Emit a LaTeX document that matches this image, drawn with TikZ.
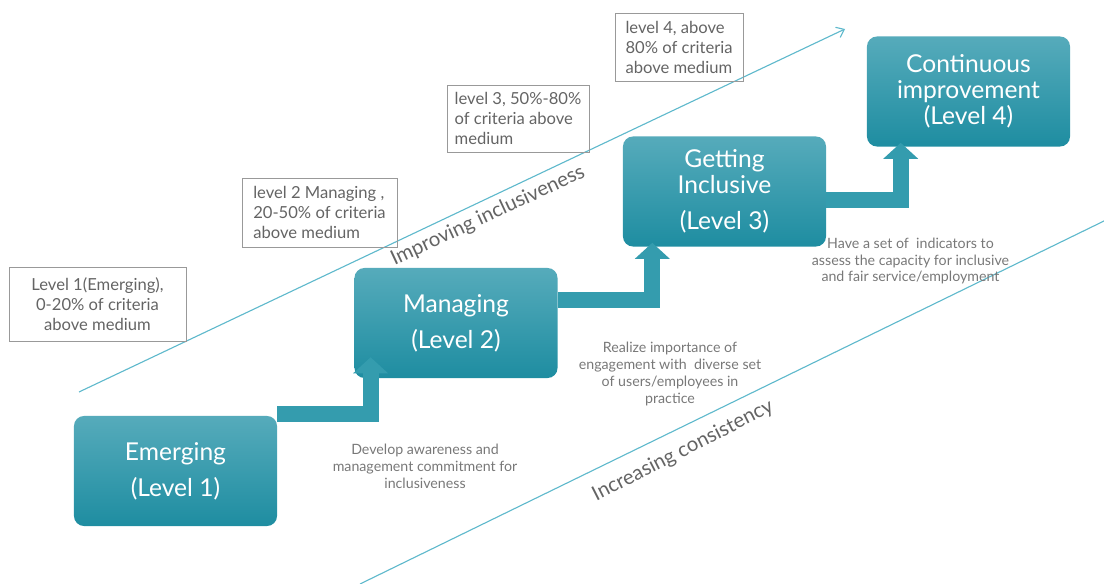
\documentclass[tikz,border=0pt]{standalone}
\usepackage{fontspec}
\setmainfont{Lato}
\usetikzlibrary{arrows.meta}
\definecolor{boxtop}{RGB}{86,171,187}
\definecolor{boxbot}{RGB}{30,141,161}
\definecolor{stepcol}{RGB}{52,156,174}
\definecolor{trendcol}{RGB}{95,185,204}
\definecolor{notegray}{RGB}{120,120,120}
\definecolor{labgray}{RGB}{100,100,100}

\begin{document}
\begin{tikzpicture}[x=0.025cm,y=0.025cm,
  levelbox/.style={rounded corners=0.25cm,top color=boxtop,bottom color=boxbot,text=white,
    minimum width=5.075cm,minimum height=2.75cm,align=center,font=\fontsize{17.5}{18.5}\selectfont},
  critbox/.style={draw=black!40,line width=0.6pt,text=labgray,font=\fontsize{11.8}{14.2}\selectfont},
  note/.style={text=notegray,align=center,font=\fontsize{10.1}{12}\selectfont},
  trend/.style={draw=trendcol,line width=0.8pt},
  trendtext/.style={text=labgray,font=\fontsize{14.5}{16}\selectfont},
  steparrow/.style={draw=stepcol,line width=0.4cm,-{Triangle[width=0.85cm,length=0.4cm]}}]
\useasboundingbox (0,0) rectangle (1104,584);
%trend lines
\coordinate (up0) at (79,192);
\coordinate (up1) at (845,555);
\coordinate (lo0) at (360,0);
\coordinate (lo1) at (1104,363);
\draw [trend,-{Straight Barb[length=5pt,width=8pt]}] (up0)--(up1);
\draw [trend] (lo0)--(lo1);
\node [trendtext,rotate=25] (impr) at (488,368) {Improving inclusiveness};
\node [trendtext,rotate=27] (incr) at (683,133) {Increasing consistency};
%criteria boxes
\node [critbox,align=center,minimum width=4.425cm,minimum height=1.85cm] (crit1) at (97.5,280)
  {Level 1(Emerging),\\0-20\% of criteria\\above medium};
\node [critbox,align=left,minimum width=3.875cm,minimum height=1.725cm] (crit2) at (319.5,371.5)
  {level 2 Managing ,\\20-50\% of criteria\\above medium};
\node [critbox,align=left,minimum width=3.55cm,minimum height=1.675cm] (crit3) at (518,465.5)
  {level 3, 50\%-80\%\\of criteria above\\medium};
\node [critbox,align=left,minimum width=3.2cm,minimum height=1.7cm] (crit4) at (679,537)
  {level 4, above\\80\% of criteria\\above medium};
%levels
\node [levelbox] (emerg) at (175.5,113) {Emerging\\[7pt](Level 1)};
\node [levelbox] (manag) at (456,261) {Managing\\[7pt](Level 2)};
\node [levelbox] (getin) at (724.5,392.5) {Getting\\Inclusive\\[7.5pt](Level 3)};
\node [levelbox] (contin) at (968.5,492.5) {Continuous\\improvement\\(Level 4)};
%steps
\draw [steparrow] ([yshift=0.04cm]emerg.north east) -| ([xshift=0.41cm,yshift=0.525cm]manag.south west);
\draw [steparrow] ([yshift=0.575cm]manag.east) -| ([xshift=0.74cm,yshift=0.1cm]getin.south west);
\draw [steparrow] ([yshift=-0.225cm]getin.east) -| ([xshift=0.85cm,yshift=0.1cm]contin.south west);
%notes
\node [note] (note1) at (425,118) {Develop awareness and\\management commitment for\\inclusiveness};
\node [note] (note2) at (670,210) {Realize importance of\\engagement with\ \ diverse set\\of users/employees in\\practice};
\node [note] (note3) at (910.5,323) {Have a set of\ \ indicators to\\assess the capacity for inclusive\\and fair service/employment};
\end{tikzpicture}
\end{document}
